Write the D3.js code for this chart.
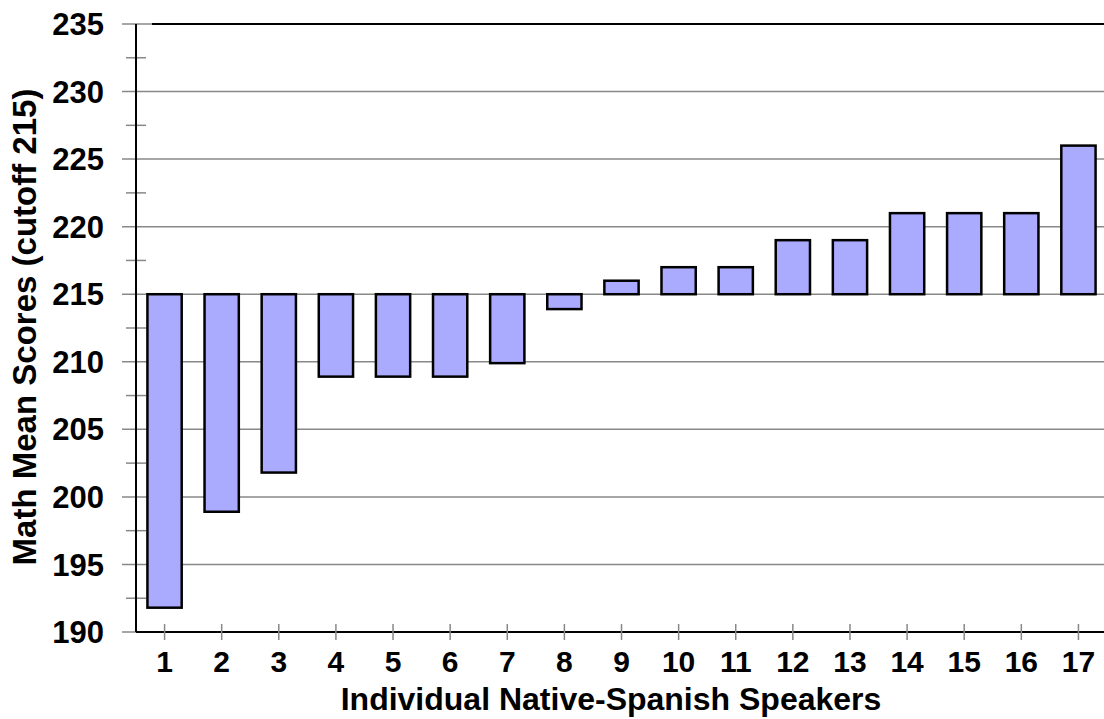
<!DOCTYPE html>
<html>
<head>
<meta charset="utf-8">
<script src="https://cdn.jsdelivr.net/npm/d3@7"></script>
<style>
  body { margin: 0; background: #fff; }
  text { font-family: "Liberation Sans", Arial, sans-serif; font-weight: bold; fill: #000; }
</style>
</head>
<body>
<div id="chart"></div>
<script>
const speakers = ["1","2","3","4","5","6","7","8","9","10","11","12","13","14","15","16","17"];
const scores = [191.8, 198.9, 201.8, 208.9, 208.9, 208.9, 209.9, 213.9, 216, 217, 217, 219, 219, 221, 221, 221, 226];
const cutoff = 215;
const yTicks = [190, 195, 200, 205, 210, 215, 220, 225, 230, 235];
const yMinorTicks = [192.5, 197.5, 202.5, 207.5, 212.5, 217.5, 222.5, 227.5, 232.5];

const width = 1104;
const height = 719;
const plotLeft = 136;
const plotRight = 1107;
const plotTop = 24;
const plotBottom = 632;

const svg = d3.select("#chart")
  .append("svg")
  .attr("width", width)
  .attr("height", height);

const x = d3.scaleBand()
  .domain(speakers)
  .range([plotLeft, plotRight])
  .paddingInner(0.4)
  .paddingOuter(0.2);
const y = d3.scaleLinear().domain([190, 235]).range([plotBottom, plotTop]);

// gridlines
svg.append("g")
  .selectAll("line")
  .data(yTicks)
  .join("line")
  .attr("x1", plotLeft - 14)
  .attr("x2", width)
  .attr("y1", (d) => y(d))
  .attr("y2", (d) => y(d))
  .attr("stroke", "#888")
  .attr("stroke-width", 1.5);

// top border
svg.append("line")
  .attr("x1", plotLeft + 16)
  .attr("x2", width)
  .attr("y1", y(235))
  .attr("y2", y(235))
  .attr("stroke", "#000")
  .attr("stroke-width", 2);

// minor ticks on y axis
svg.append("g")
  .selectAll("line")
  .data(yMinorTicks)
  .join("line")
  .attr("x1", plotLeft - 10)
  .attr("x2", plotLeft + 10)
  .attr("y1", (d) => y(d))
  .attr("y2", (d) => y(d))
  .attr("stroke", "#888")
  .attr("stroke-width", 1.5);

// bars, hanging from the cutoff
svg.append("g")
  .selectAll("rect")
  .data(scores)
  .join("rect")
  .attr("x", (d, i) => x(speakers[i]))
  .attr("width", x.bandwidth())
  .attr("y", (d) => y(Math.max(d, cutoff)))
  .attr("height", (d) => Math.abs(y(d) - y(cutoff)))
  .attr("fill", "#aaaaff")
  .attr("stroke", "#000")
  .attr("stroke-width", 2.5);

// axes lines
svg.append("line")
  .attr("x1", plotLeft)
  .attr("x2", plotLeft)
  .attr("y1", plotTop)
  .attr("y2", plotBottom)
  .attr("stroke", "#000")
  .attr("stroke-width", 2);

svg.append("line")
  .attr("x1", plotLeft)
  .attr("x2", width)
  .attr("y1", plotBottom)
  .attr("y2", plotBottom)
  .attr("stroke", "#000")
  .attr("stroke-width", 2);

// x ticks
svg.append("g")
  .selectAll("line")
  .data(speakers)
  .join("line")
  .attr("x1", (d) => x(d) + x.bandwidth() / 2)
  .attr("x2", (d) => x(d) + x.bandwidth() / 2)
  .attr("y1", plotBottom - 8)
  .attr("y2", plotBottom + 8)
  .attr("stroke", "#888")
  .attr("stroke-width", 1.5);

// y labels
svg.append("g")
  .selectAll("text")
  .data(yTicks)
  .join("text")
  .attr("x", 104)
  .attr("y", (d) => y(d))
  .attr("dy", "0.36em")
  .attr("text-anchor", "end")
  .attr("font-size", 31)
  .text((d) => d);

// x labels
svg.append("g")
  .selectAll("text")
  .data(speakers)
  .join("text")
  .attr("x", (d) => x(d) + x.bandwidth() / 2)
  .attr("y", 672)
  .attr("text-anchor", "middle")
  .attr("font-size", 30)
  .text((d) => d);

svg.append("text")
  .attr("x", 611)
  .attr("y", 710)
  .attr("text-anchor", "middle")
  .attr("font-size", 32)
  .text("Individual Native-Spanish Speakers");

svg.append("text")
  .attr("transform", `translate(36,327) rotate(-90)`)
  .attr("text-anchor", "middle")
  .attr("font-size", 33)
  .text("Math Mean Scores (cutoff 215)");
</script>
</body>
</html>
